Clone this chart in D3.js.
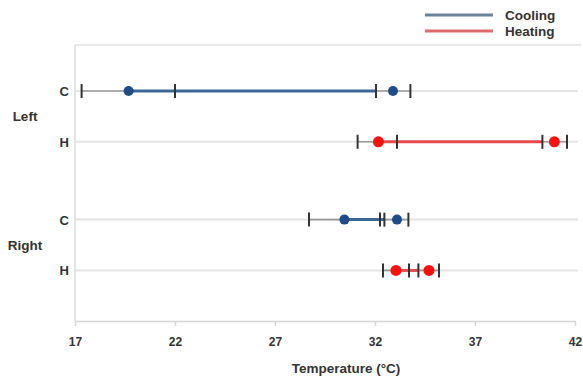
<!DOCTYPE html>
<html>
<head>
<meta charset="utf-8">
<script src="https://cdn.jsdelivr.net/npm/d3@7"></script>
<style>
	body { margin: 0; background: #fff; }
	text { font-family: "Liberation Sans", Arial, sans-serif; font-weight: bold; fill: #333; }
	.axis path, .axis line { stroke: #d6d6d6; stroke-width: 1.5; }
	.axis text { font-size: 12px; fill: #333; }
</style>
</head>
<body>
<svg id="chart" width="583" height="383"></svg>
<script>
// values (degrees C)
var groups = ["Left", "Right"]
var modes = ["C", "H"]
var rowGroup = ["Left", "Left", "Right", "Right"]
var rowMode = ["C", "H", "C", "H"]
var rowSeries = ["Cooling", "Heating", "Cooling", "Heating"]
var startLow = [17.33, 31.13, 28.7, 32.4]
var startMean = [19.68, 32.17, 30.47, 33.05]
var startHigh = [22.0, 33.1, 32.25, 33.7]
var endLow = [32.05, 40.37, 32.47, 34.17]
var endMean = [32.9, 40.97, 33.1, 34.7]
var endHigh = [33.77, 41.6, 33.67, 35.2]
var xTicks = [17, 22, 27, 32, 37, 42]
var seriesNames = ["Cooling", "Heating"]

var lineColor = {Cooling: "#3f6794", Heating: "#e64b4b"}
var dotColor = {Cooling: "#1f4c86", Heating: "#ff1010"}
var legendColor = {Cooling: "#6a819c", Heating: "#e06a6a"}

var svg = d3.select("#chart"),
	plotTop = 45, plotBottom = 321, plotLeft = 75, plotRight = 575;

var x = d3.scaleLinear()
	.domain([17, 42])
	.range([plotLeft, plotRight]);

var yGroup = d3.scaleBand()
	.domain(groups)
	.range([plotTop, plotBottom])
	.paddingInner(0.21)
	.paddingOuter(0.178)
	.align(0.45);

var yRow = d3.scalePoint()
	.domain(modes)
	.range([0, yGroup.bandwidth()])
	.padding(0.5);

function rowY(i) { return yGroup(rowGroup[i]) + yRow(rowMode[i]); }

var rows = d3.range(rowMode.length);

// frame: top line and left line
svg.append("line")
	.attr("x1", plotLeft).attr("x2", 581)
	.attr("y1", plotTop).attr("y2", plotTop)
	.attr("stroke", "#e2e2e2").attr("stroke-width", 1.5);

svg.append("line")
	.attr("x1", plotLeft).attr("x2", plotLeft)
	.attr("y1", plotTop).attr("y2", plotBottom)
	.attr("stroke", "#dcdcdc").attr("stroke-width", 1.5);

// x axis
var xAxis = d3.axisBottom(x)
	.tickValues(xTicks)
	.tickSize(5)
	.tickPadding(11)
	.tickSizeOuter(0);

svg.append("g")
	.attr("class", "axis")
	.attr("transform", "translate(0," + plotBottom + ")")
	.call(xAxis);

// row grid lines
svg.append("g").selectAll("line")
	.data(rows)
	.enter().append("line")
		.attr("x1", plotLeft).attr("x2", 578)
		.attr("y1", rowY).attr("y2", rowY)
		.attr("stroke", "#e4e4e4").attr("stroke-width", 2);

// full range, thin gray
svg.append("g").selectAll("line")
	.data(rows)
	.enter().append("line")
		.attr("x1", function(i) { return x(startLow[i]); })
		.attr("x2", function(i) { return x(endHigh[i]); })
		.attr("y1", rowY).attr("y2", rowY)
		.attr("stroke", "#9a9a9a").attr("stroke-width", 1.6);

// coloured span
svg.append("g").selectAll("line")
	.data(rows)
	.enter().append("line")
		.attr("x1", function(i) { return x(startMean[i]); })
		.attr("x2", function(i) { return x(endLow[i]); })
		.attr("y1", rowY).attr("y2", rowY)
		.attr("stroke", function(i) { return lineColor[rowSeries[i]]; })
		.attr("stroke-width", 3);

// whisker ticks
var tickVals = [];
rows.forEach(function(i) {
	[startLow, startHigh, endLow, endHigh].forEach(function(arr) {
		tickVals.push({row: i, v: arr[i]});
	});
});

svg.append("g").selectAll("line")
	.data(tickVals)
	.enter().append("line")
		.attr("x1", function(d) { return x(d.v); })
		.attr("x2", function(d) { return x(d.v); })
		.attr("y1", function(d) { return rowY(d.row) - 7; })
		.attr("y2", function(d) { return rowY(d.row) + 7; })
		.attr("stroke", "#333").attr("stroke-width", 2);

// mean dots
var dots = [];
rows.forEach(function(i) {
	dots.push({row: i, v: startMean[i]});
	dots.push({row: i, v: endMean[i]});
});

svg.append("g").selectAll("circle")
	.data(dots)
	.enter().append("circle")
		.attr("cx", function(d) { return x(d.v); })
		.attr("cy", function(d) { return rowY(d.row); })
		.attr("r", function(d) { return rowSeries[d.row] == "Heating" ? 5.5 : 5; })
		.attr("fill", function(d) { return dotColor[rowSeries[d.row]]; });

// row labels
svg.append("g").selectAll("text")
	.data(rows)
	.enter().append("text")
		.attr("x", 69)
		.attr("y", function(i) { return rowY(i) + 5; })
		.attr("text-anchor", "end")
		.style("font-size", "13px")
		.text(function(i) { return rowMode[i]; });

// group labels
svg.append("g").selectAll("text")
	.data(groups)
	.enter().append("text")
		.attr("x", 25)
		.attr("y", function(g) { return yGroup(g) + yGroup.bandwidth() / 2 + 5; })
		.attr("text-anchor", "middle")
		.style("font-size", "13.5px")
		.text(function(g) { return g; });

// axis title
svg.append("text")
	.attr("x", 346)
	.attr("y", 373)
	.attr("text-anchor", "middle")
	.style("font-size", "13.5px")
	.text("Temperature (°C)");

// legend
var legend = svg.append("g").selectAll("g")
	.data(seriesNames)
	.enter().append("g")
		.attr("transform", function(d, i) { return "translate(0," + (15 + i * 16) + ")"; });

legend.append("line")
	.attr("x1", 425).attr("x2", 493)
	.attr("stroke", function(d) { return legendColor[d]; })
	.attr("stroke-width", 3);

legend.append("text")
	.attr("x", 505)
	.attr("y", 4.5)
	.style("font-size", "13.5px")
	.text(function(d) { return d; });
</script>
</body>
</html>
